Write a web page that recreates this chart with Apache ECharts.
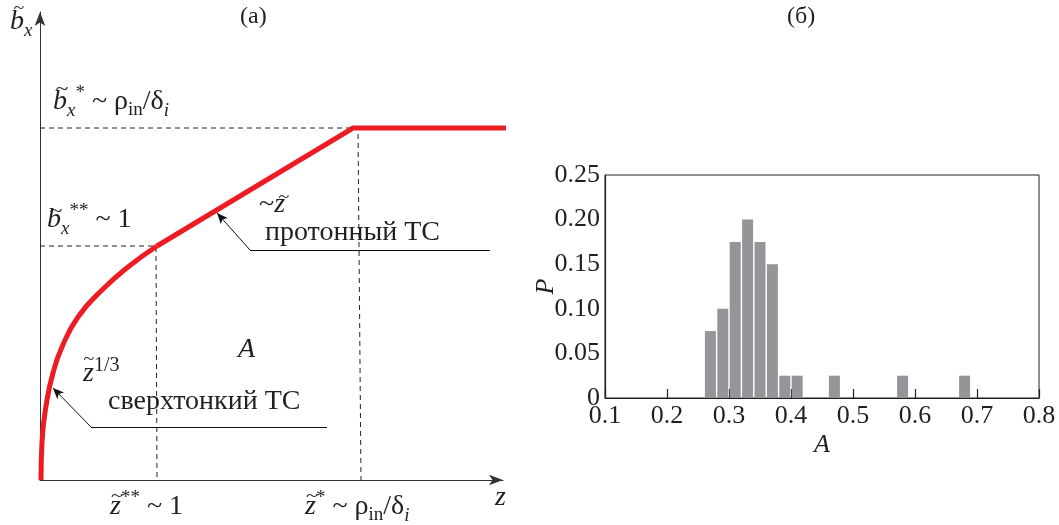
<!DOCTYPE html>
<html>
<head>
<meta charset="utf-8">
<script src="https://cdn.jsdelivr.net/npm/echarts@6/dist/echarts.min.js"></script>
<style>
  html, body { margin: 0; padding: 0; background: #fff; }
  #chart { width: 1059px; height: 525px; }
</style>
</head>
<body>
<div id="chart"></div>
<script>
const rootCurve = [[1, 0], [2, 38], [7, 80], [13, 107], [22, 133], [38, 163], [62, 190], [88, 213], [117, 234]];
const linearPart = [[117, 234], [313, 352], [467, 352]];
const bStarStarGuide = [[0, 234], [116, 234], [117, 0]];
const bStarGuide = [[0, 352], [318, 352], [321, 0]];
const protonPointer = [[450, 230], [210, 230], [177, 267]];
const hyperPointer = [[287, 53], [51, 53], [13, 92]];

// panel (б): histogram of A
const binCenters = [0.27, 0.29, 0.31, 0.33, 0.35, 0.37, 0.39, 0.41, 0.47, 0.58, 0.68];
const binP = [0.075, 0.10, 0.175, 0.20, 0.175, 0.15, 0.025, 0.025, 0.025, 0.025, 0.025];

const FAM = "Liberation Serif";
const FONT = "'Liberation Serif', serif";
const INK = "#231f20";

function tok(size, lh, italic, valign) {
  const s = {
    font: (italic ? "italic " : "") + size + "px '" + FAM + "', serif",
    fontFamily: FAM,
    fontSize: size,
    fontStyle: italic ? "italic" : "normal",
    lineHeight: lh,
    fill: INK,
    color: INK,
  };
  if (valign) s.verticalAlign = valign;
  return s;
}

const rich = {
  n: tok(28, 36, false),
  i: tok(28, 36, true),
  t: tok(24, 36, false),
  sub: tok(19, 19, false, "bottom"),
  isub: tok(19, 19, true, "bottom"),
  sup: tok(19, 19, false, "top"),
  sup2: tok(20, 30, false, "top"),
};

function label(left, top, text) {
  return {
    type: "text",
    left: left,
    top: top,
    silent: true,
    style: Object.assign(tok(28, 36, false), { text: text, rich: rich }),
  };
}

// the wide tilde that sits over b and z
function tilde(cx, cy, size) {
  return {
    type: "text",
    x: cx,
    y: cy,
    silent: true,
    scaleY: 0.8,
    style: Object.assign(tok(size, size, false), {
      text: "~",
      align: "center",
      verticalAlign: "middle",
      textAlign: "center",
      textVerticalAlign: "middle",
    }),
  };
}

// consecutive markLine segments through the points, arrow on the last one
function pointerSegments(pts) {
  const segs = [];
  for (let k = 0; k < pts.length - 1; k++) {
    const last = k === pts.length - 2;
    segs.push([
      { coord: pts[k], symbol: "none" },
      { coord: pts[k + 1], symbol: last ? "arrow" : "none" },
    ]);
  }
  return segs;
}

const dashed = { type: [5, 4], width: 1, color: "#222" };

const option = {
  animation: false,
  backgroundColor: "#fff",
  grid: [
    { left: 40, top: 12, width: 463, height: 468 },
    { left: 605, top: 175, width: 434, height: 223, show: true, borderColor: INK, borderWidth: 1 },
  ],
  xAxis: [
    {
      gridIndex: 0,
      type: "value",
      min: 0,
      max: 463,
      axisLine: { show: true, symbol: ["none", "arrow"], symbolSize: [8, 14], lineStyle: { color: "#333", width: 1 } },
      axisTick: { show: false },
      axisLabel: { show: false },
      splitLine: { show: false },
    },
    {
      gridIndex: 1,
      type: "value",
      min: 0.1,
      max: 0.8,
      interval: 0.1,
      axisLine: { show: true, onZero: false, lineStyle: { color: INK, width: 1.2 } },
      axisTick: { show: true, inside: true, length: 9, lineStyle: { color: INK, width: 1.2 } },
      axisLabel: { fontFamily: FONT, fontSize: 26, color: INK, margin: 5, formatter: (v) => v.toFixed(1) },
      splitLine: { show: false },
      name: "A",
      nameLocation: "middle",
      nameGap: 34,
      nameMoveOverlap: false,
      nameTextStyle: { fontFamily: FONT, fontSize: 26, fontStyle: "italic", color: INK },
    },
  ],
  yAxis: [
    {
      gridIndex: 0,
      type: "value",
      min: 0,
      max: 468,
      axisLine: { show: true, symbol: ["none", "arrow"], symbolSize: [8, 14], lineStyle: { color: "#333", width: 1 } },
      axisTick: { show: false },
      axisLabel: { show: false },
      splitLine: { show: false },
    },
    {
      gridIndex: 1,
      type: "value",
      min: 0,
      max: 0.25,
      interval: 0.05,
      axisLine: { show: true, lineStyle: { color: INK, width: 1.2 } },
      axisTick: { show: false },
      axisLabel: {
        fontFamily: FONT,
        fontSize: 26,
        color: INK,
        margin: 5,
        formatter: (v) => (v === 0 ? "0" : v.toFixed(2)),
      },
      splitLine: { show: false },
      name: "P",
      nameLocation: "middle",
      nameRotate: 90,
      nameGap: 46,
      nameMoveOverlap: false,
      nameTextStyle: { fontFamily: FONT, fontSize: 26, fontStyle: "italic", color: INK },
    },
  ],
  series: [
    {
      type: "line",
      xAxisIndex: 0,
      yAxisIndex: 0,
      data: bStarStarGuide,
      symbol: "none",
      lineStyle: dashed,
      z: 1,
    },
    {
      type: "line",
      xAxisIndex: 0,
      yAxisIndex: 0,
      data: bStarGuide,
      symbol: "none",
      lineStyle: dashed,
      z: 1,
    },
    {
      type: "line",
      xAxisIndex: 0,
      yAxisIndex: 0,
      data: rootCurve,
      symbol: "none",
      smooth: 0.5,
      clip: false,
      lineStyle: { color: "#ed1c24", width: 5 },
      z: 3,
    },
    {
      type: "line",
      xAxisIndex: 0,
      yAxisIndex: 0,
      data: linearPart,
      symbol: "none",
      clip: false,
      lineStyle: { color: "#ed1c24", width: 5, join: "miter" },
      z: 3,
      markLine: {
        silent: true,
        animation: false,
        symbol: ["none", "arrow"],
        symbolSize: [7, 11],
        label: { show: false },
        lineStyle: { color: "#111", width: 1, type: "solid" },
        data: pointerSegments(protonPointer).concat(pointerSegments(hyperPointer)),
      },
    },
    {
      type: "bar",
      xAxisIndex: 1,
      yAxisIndex: 1,
      data: binCenters.map((a, k) => [a, binP[k]]),
      barWidth: 11,
      itemStyle: { color: "#939598" },
      z: 3,
    },
  ],
  graphic: [
    label(240, -1, "{t|(a)}"),
    label(787, -1, "{t|(б)}"),
    label(10, 4, "{i|b}{isub|x}"),
    label(53, 84, "{i|b}{isub|x}{sup|*}{n| ~ ρ}{sub|in}{n|/δ}{isub|i}"),
    label(47, 202, "{i|b}{isub|x}{sup|**}{n| ~ 1}"),
    label(259, 187, "{n|~}{i|z}"),
    label(265, 215, "{n|протонный ТС}"),
    label(238, 332, "{i|A}"),
    label(83, 356, "{i|z}{sup2|1/3}"),
    label(108, 384, "{n|сверхтонкий ТС}"),
    label(110, 489, "{i|z}{sup|**}{n| ~ 1}"),
    label(305, 489, "{i|z}{sup|*}{n| ~ ρ}{sub|in}{n|/δ}{isub|i}"),
    label(495, 480, "{i|z}"),
    tilde(19, 9, 20),
    tilde(62, 90, 24),
    tilde(56, 212, 24),
    tilde(284, 198, 20),
    tilde(89, 360, 20),
    tilde(117, 496, 22),
    tilde(312, 496, 22),
  ],
};

const chart = echarts.init(document.getElementById("chart"));
chart.setOption(option);
</script>
</body>
</html>
